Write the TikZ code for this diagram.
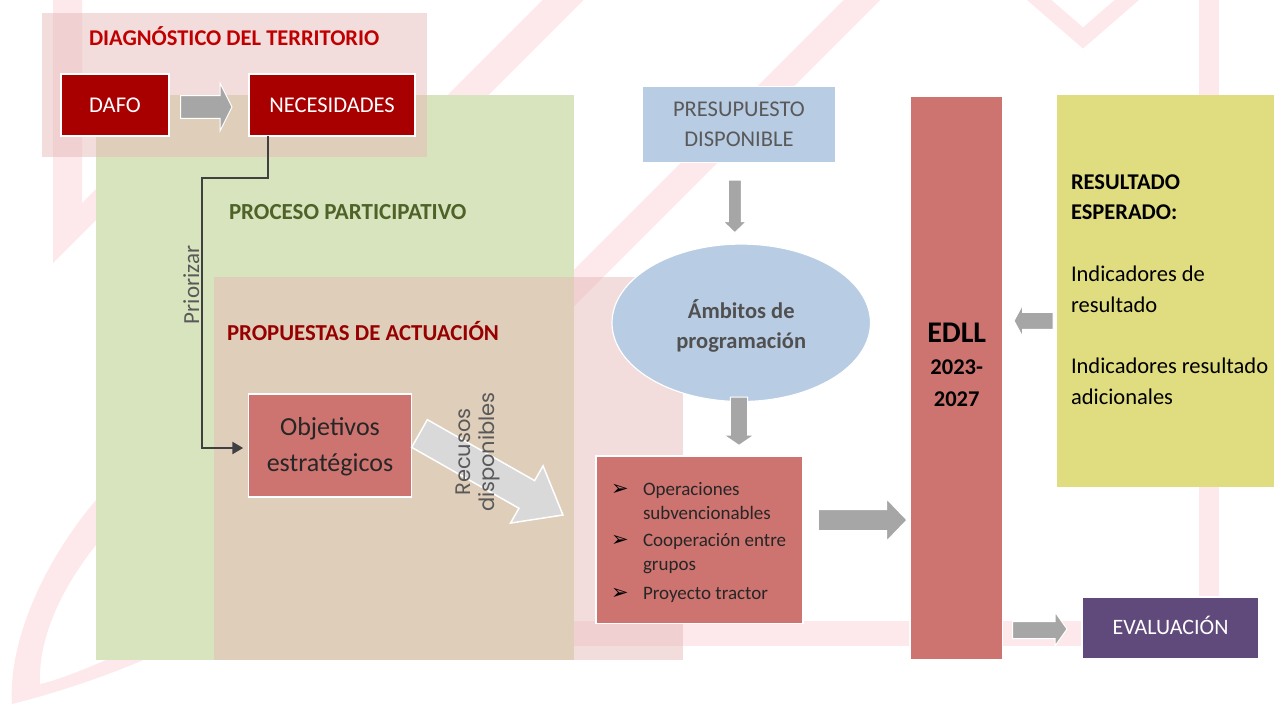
\documentclass[tikz,border=0pt]{standalone}
\usepackage{fontspec}
\setmainfont{Carlito}
\newfontfamily\djv{DejaVu Sans}
\newfontfamily\pop{Poppins}
\usetikzlibrary{arrows.meta,shapes.geometric,calc}
\definecolor{wm}{RGB}{253,233,235}
\definecolor{grn}{RGB}{215,228,189}
\definecolor{pnk}{RGB}{229,185,185}
\definecolor{dred}{RGB}{168,0,0}
\definecolor{titred}{RGB}{192,0,0}
\definecolor{propred}{RGB}{150,0,0}
\definecolor{olive}{RGB}{79,98,40}
\definecolor{rose}{RGB}{205,115,112}
\definecolor{lblue}{RGB}{184,204,228}
\definecolor{garrow}{RGB}{166,166,166}
\definecolor{larrow}{RGB}{217,217,217}
\definecolor{ylw}{RGB}{224,220,128}
\definecolor{purp}{RGB}{96,73,123}
\definecolor{dgray}{RGB}{64,64,64}
\definecolor{mgray}{RGB}{89,89,89}
\definecolor{ambgray}{RGB}{80,80,80}
\definecolor{tgray}{RGB}{38,38,38}
\newcommand\opbul{\makebox[32pt][l]{\raisebox{-0.5pt}{\color{black}\djv\fontsize{21}{21}\selectfont ➢}}}
\begin{document}
\begin{tikzpicture}[x=1pt,y=-1pt,
  every node/.style={inner sep=0pt,outer sep=0pt},
  fsr/.style={font=\fontsize{22.5}{30.5}\selectfont},
  fsb/.style={font=\fontsize{22.5}{30.5}\selectfont\bfseries},
  boxnode/.style={rectangle,draw=white,line width=1.2pt,text height=14.2pt,text depth=0pt,align=center},
  pinkveil/.style={rectangle,fill=pnk,fill opacity=0.5},
  garr/.style={fill=garrow,draw=white,line width=1pt},
  conn/.style={draw=dgray,line width=2.5pt,-{Triangle[length=11pt,width=12pt]},shorten >=5pt}
]
\useasboundingbox (0,0) rectangle (1274,705);

% faint watermark
\fill[wm] (53,-5) -- (82,-5) -- (82,203) -- (130,155) -- (161,155) -- (53,263) -- cycle;
\draw[wm,line width=29pt] (420,143) -- (575,-12);
\draw[wm,line width=26pt] (560,302) -- (875,-13);
\draw[wm,line width=16pt,line join=miter] (1030,-8) -- (1083,38) -- (1136,-8);
\fill[wm] (1199,-5) rectangle (1219,646);
\fill[wm] (560,621) rectangle (1219,646);
\fill[wm] (96,500) .. controls (45,560) and (8,640) .. (12,704)
  .. controls (60,692) and (120,672) .. (170,648) -- (170,630)
  .. controls (110,660) and (60,680) .. (40,684)
  .. controls (38,640) and (60,590) .. (96,545) -- cycle;

% background panels
\node[fill=grn,minimum width=477.5pt,minimum height=565pt] (green) at (334.75,377.5) {};
\node[pinkveil,minimum width=385pt,minimum height=144pt] (diag) at (234.5,85) {};
\node[pinkveil,minimum width=469pt,minimum height=383.5pt] (prop) at (448.5,468.25) {};

% titles
\node[fsb,text=titred,anchor=base west] (tdiag) at (89,45) {DIAGNÓSTICO DEL TERRITORIO};
\node[fsb,text=olive,anchor=base west,font=\fontsize{23}{30.5}\selectfont\bfseries] (tproc) at (229,219) {PROCESO PARTICIPATIVO};
\node[fsb,text=propred,anchor=base west,font=\fontsize{22.8}{30.5}\selectfont\bfseries] (tprop) at (227,340) {PROPUESTAS DE ACTUACIÓN};

% diagnosis boxes
\node[boxnode,fill=dred,text=white,fsr,minimum width=108pt,minimum height=62pt] (dafo) at (115,105) {DAFO};
\node[boxnode,fill=dred,text=white,fsr,minimum width=166pt,minimum height=62pt] (nec) at (332,105) {NECESIDADES};
\path[garr] (180.7,95.7) -- (220,95.7) -- (220,83) -- (232,107) -- (220,131) -- (220,118.3) -- (180.7,118.3) -- cycle;

% objectives
\node[boxnode,fill=rose,text=tgray,font=\fontsize{26}{35.6}\selectfont,text height=52pt,minimum width=163.5pt,minimum height=103pt] (obj) at (330,445.5) {Objetivos\\estratégicos};
\draw[conn] ([xshift=19pt]nec.south west) |- (202,178) |- ([yshift=-2.5pt]obj.west);
\node[rotate=90,anchor=base,text=mgray,font=\fontsize{23}{23}\selectfont] (prio) at (199,285) {Priorizar};

% resources arrow
\begin{scope}[shift={(419.5,433.5)},rotate=-29.6]
\path[fill=larrow,draw=white,line width=1.5pt] (0,-15.9) -- (123.4,-15.9) -- (123.4,-32.9) -- (165,0) -- (123.4,32.9) -- (123.4,15.9) -- (0,15.9) -- cycle;
\end{scope}
\node[rotate=90,anchor=base,text=mgray,font=\pop\fontsize{21}{24}\selectfont] (recus) at (470,452) {\begin{tabular}[t]{@{}c@{}}Recusos\\disponibles\end{tabular}};

% budget, scope
\node[boxnode,fill=lblue,text=mgray,fsr,text height=44.8pt,minimum width=193.7pt,minimum height=76.6pt] (pres) at (738.9,124.5) {PRESUPUESTO\\DISPONIBLE};
\path[garr] (728.3,180) -- (741.3,180) -- (741.3,221.7) -- (746.3,221.7) -- (734.8,232.7) -- (723.3,221.7) -- (728.3,221.7) -- cycle;
\node[ellipse,fill=lblue,draw=white,line width=1.2pt,minimum width=258.5pt,minimum height=157.5pt,text=ambgray,fsb,align=center,text height=51.5pt,text depth=0pt] (amb) at (741.25,322.8) {Ámbitos de\\programación};
\path[garr] (730.3,397) -- (747.7,397) -- (747.7,435) -- (754.2,435) -- (739,445.4) -- (723.8,435) -- (730.3,435) -- cycle;

% operations
\node[boxnode,fill=rose,minimum width=207pt,minimum height=167.6pt] (ops) at (699.5,539.8) {};
\node[anchor=base west,text=tgray,font=\fontsize{19}{24.5}\selectfont] (opst) at (611,495) {\begin{tabular}[t]{@{}l@{}l@{}}
\opbul & Operaciones\\
 & subvencionables\\[2pt]
\opbul & Cooperación entre\\
 & grupos\\[4pt]
\opbul & Proyecto tractor
\end{tabular}};
\path[garr] (818.3,509.5) -- (886.7,509.5) -- (886.7,499) -- (906.9,520) -- (886.7,541) -- (886.7,530.6) -- (818.3,530.6) -- cycle;

% EDLL
\node[boxnode,fill=rose,minimum width=92.7pt,minimum height=563pt] (edll) at (956.35,377.7) {};
\node[anchor=base,font=\fontsize{22.5}{32}\selectfont\bfseries] (edllt) at (956.7,342.7) {\begin{tabular}[t]{@{}c@{}}{\fontsize{30}{30}\selectfont EDLL}\\2023-\\2027\end{tabular}};

% expected result
\node[fill=ylw,minimum width=225pt,minimum height=391.7pt] (res) at (1169.2,291.15) {};
\node[anchor=base west,font=\fontsize{22.5}{30.8}\selectfont] (rest) at (1071,189) {\begin{tabular}[t]{@{}l@{}}
\textbf{RESULTADO}\\
\textbf{ESPERADO:}\\
\\
Indicadores de\\
resultado\\
\\
Indicadores resultado\\
adicionales
\end{tabular}};
\path[garr] (1014,320.8) -- (1022.5,305) -- (1022.5,312.3) -- (1053,312.3) -- (1053,329.3) -- (1022.5,329.3) -- (1022.5,336.6) -- cycle;

% evaluation
\node[boxnode,fill=purp,text=white,font=\fontsize{22}{26}\selectfont,text height=13.9pt,minimum width=177pt,minimum height=62pt] (eval) at (1170.5,628) {EVALUACIÓN};
\path[garr] (1012.7,621.5) -- (1055,621.5) -- (1055,612) -- (1067,629) -- (1055,646) -- (1055,638.5) -- (1012.7,638.5) -- cycle;
\end{tikzpicture}
\end{document}
